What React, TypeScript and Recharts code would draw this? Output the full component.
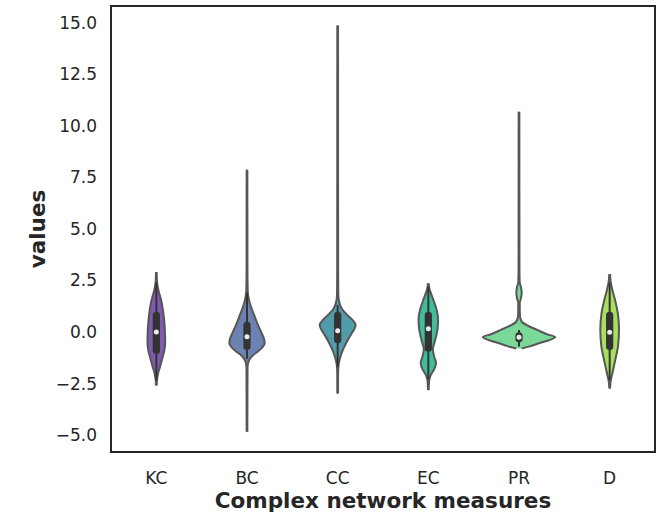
import { ComposedChart, Area, XAxis, YAxis, ReferenceArea, ReferenceLine, ReferenceDot } from 'recharts'

const MEASURES = ['KC', 'BC', 'CC', 'EC', 'PR', 'D']
const Y_TICKS = [-5, -2.5, 0, 2.5, 5, 7.5, 10, 12.5, 15]
const COLORS = ['#8059b0', '#6b82b3', '#509cab', '#41bd9c', '#7ad898', '#a7e05e']

// violin outlines: [value, half width in category units]
const KC_SHAPE = [
  [2.9, 0.004], [2.5, 0.006], [2.2, 0.015], [1.9, 0.03], [1.5, 0.055], [1.0, 0.075], [0.5, 0.088],
  [0.0, 0.095], [-0.5, 0.098], [-0.9, 0.088], [-1.3, 0.065], [-1.7, 0.04], [-2.0, 0.02], [-2.3, 0.008], [-2.6, 0.004],
]
const BC_SHAPE = [
  [7.86, 0.004], [3.0, 0.005], [2.0, 0.008], [1.6, 0.02], [1.2, 0.045], [0.8, 0.08], [0.4, 0.115], [0.0, 0.155],
  [-0.3, 0.185], [-0.55, 0.195], [-0.75, 0.17], [-0.95, 0.12], [-1.15, 0.06], [-1.4, 0.02], [-1.7, 0.006],
  [-3.0, 0.005], [-4.84, 0.004],
]
const CC_SHAPE = [
  [14.85, 0.004], [3.0, 0.005], [1.8, 0.007], [1.4, 0.02], [1.1, 0.05], [0.85, 0.1], [0.6, 0.16], [0.35, 0.198],
  [0.15, 0.185], [-0.1, 0.15], [-0.4, 0.11], [-0.8, 0.065], [-1.2, 0.03], [-1.6, 0.01], [-2.0, 0.005], [-2.98, 0.004],
]
const EC_SHAPE = [
  [2.36, 0.004], [2.1, 0.012], [1.8, 0.035], [1.5, 0.06], [1.1, 0.09], [0.6, 0.108], [0.1, 0.1], [-0.4, 0.075],
  [-0.85, 0.05], [-1.2, 0.065], [-1.5, 0.085], [-1.8, 0.065], [-2.1, 0.025], [-2.4, 0.008], [-2.82, 0.004],
]
const PR_SHAPE = [
  [10.67, 0.004], [3.0, 0.005], [2.4, 0.008], [2.2, 0.02], [1.9, 0.03], [1.6, 0.02], [1.4, 0.008], [0.8, 0.01],
  [0.5, 0.03], [0.3, 0.1], [0.1, 0.2], [-0.1, 0.3], [-0.25, 0.4], [-0.4, 0.33], [-0.55, 0.22], [-0.7, 0.12], [-0.8, 0.03],
]
const D_SHAPE = [
  [2.81, 0.004], [2.4, 0.012], [2.0, 0.032], [1.5, 0.062], [0.9, 0.09], [0.1, 0.103], [-0.7, 0.092],
  [-1.35, 0.062], [-2.0, 0.03], [-2.35, 0.012], [-2.74, 0.004],
]
const SHAPES = [KC_SHAPE, BC_SHAPE, CC_SHAPE, EC_SHAPE, PR_SHAPE, D_SHAPE]

// inner box plot
const Q1 = [-1.07, -0.88, -0.55, -0.96, -0.5, -0.88]
const Q3 = [0.98, 0.49, 0.98, 0.98, -0.02, 0.98]
const MEDIANS = [0.0, -0.23, 0.06, 0.15, -0.26, -0.02]
const WHISKER_LOW = [-2.35, -1.3, -1.7, -2.3, -0.7, -2.35]
const WHISKER_HIGH = [2.4, 1.9, 1.3, 2.2, 0.1, 2.4]

const FONT = 'DejaVu Sans'
const TEXT = '#262626'

const fmt = (v: number) => (v < 0 ? '\u2212' + Math.abs(v).toFixed(1) : v.toFixed(1))

export default function App() {
  const violins = SHAPES.map((shape, i) => shape.map(([y, w]) => ({ y, range: [i - w, i + w] })))

  return (
    <div style={{ position: 'absolute', left: 0, top: 0, width: 662, height: 517, background: '#fff' }}>
      <ComposedChart
        width={662}
        height={517}
        layout="vertical"
        margin={{ top: 6, right: 7, left: 0, bottom: 0 }}
      >
        <XAxis
          type="number"
          domain={[-0.5, 5.5]}
          ticks={[0, 1, 2, 3, 4, 5]}
          tickFormatter={(v: number) => MEASURES[v]}
          allowDataOverflow
          height={65}
          tickLine={false}
          axisLine={false}
          tickMargin={14}
          tick={{ fontSize: 17, fill: TEXT, fontFamily: FONT }}
          label={(props: any) => {
            const vb = props.viewBox
            return (
              <text
                x={vb.x + vb.width / 2}
                y={vb.y + 56}
                textAnchor="middle"
                fontSize={21.5}
                fontWeight="bold"
                fontFamily={FONT}
                fill={TEXT}
              >
                Complex network measures
              </text>
            )
          }}
        />
        <YAxis
          type="number"
          dataKey="y"
          domain={[-5.82, 15.8]}
          ticks={Y_TICKS}
          tickFormatter={fmt}
          allowDataOverflow
          reversed
          width={111}
          tickLine={false}
          axisLine={false}
          tickMargin={8}
          tick={{ fontSize: 17, fill: TEXT, fontFamily: FONT }}
          label={(props: any) => {
            const vb = props.viewBox
            const cx = vb.x + 37
            const cy = vb.y + vb.height / 2
            return (
              <text
                x={cx}
                y={cy}
                transform={`rotate(-90, ${cx}, ${cy})`}
                textAnchor="middle"
                dominantBaseline="central"
                fontSize={21.5}
                fontWeight="bold"
                fontFamily={FONT}
                fill={TEXT}
              >
                values
              </text>
            )
          }}
        />

        {violins.map((data, i) => (
          <Area
            key={MEASURES[i]}
            data={data}
            dataKey="range"
            type="monotone"
            fill={COLORS[i]}
            fillOpacity={1}
            stroke="#575757"
            strokeWidth={2}
            dot={false}
            activeDot={false}
            isAnimationActive={false}
          />
        ))}

        {MEASURES.map((m, i) => (
          <ReferenceLine
            key={`w-${m}`}
            segment={[{ x: i, y: WHISKER_LOW[i] }, { x: i, y: WHISKER_HIGH[i] }]}
            stroke="#333"
            strokeWidth={2}
          />
        ))}
        {MEASURES.map((m, i) => (
          <ReferenceArea
            key={`b-${m}`}
            x1={i - 0.04}
            x2={i + 0.04}
            y1={Q1[i]}
            y2={Q3[i]}
            fill="#333"
            fillOpacity={1}
            stroke="none"
            radius={3.5}
          />
        ))}
        {MEASURES.map((m, i) => (
          <ReferenceDot key={`m-${m}`} x={i} y={MEDIANS[i]} r={2.5} fill="#ececec" stroke="none" />
        ))}

        <ReferenceArea
          x1={-0.5}
          x2={5.5}
          y1={-5.82}
          y2={15.8}
          fill="none"
          stroke="#262626"
          strokeWidth={2}
        />
      </ComposedChart>
    </div>
  )
}
